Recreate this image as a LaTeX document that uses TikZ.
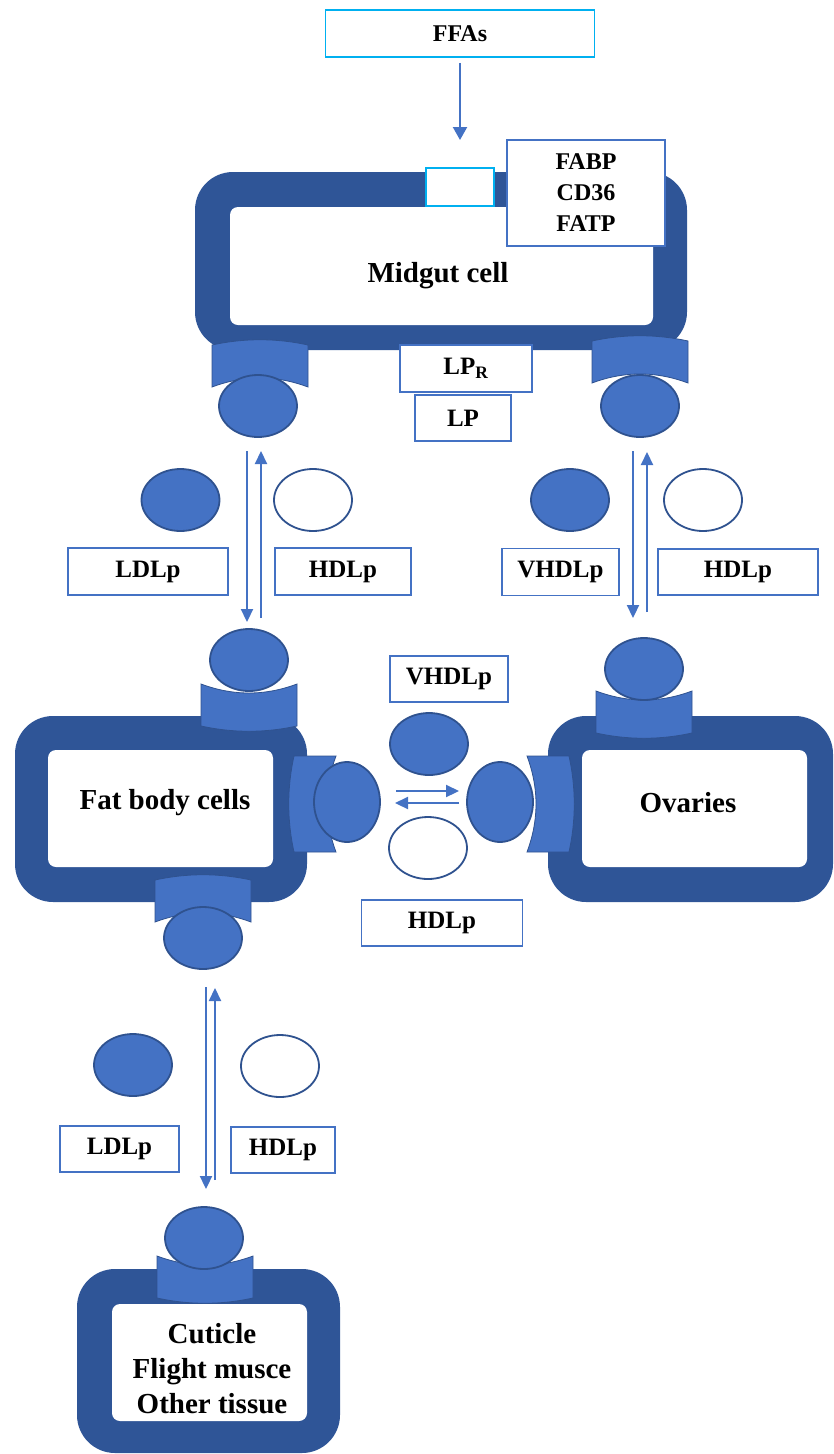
\documentclass[tikz,border=0pt]{standalone}
\usepackage{fontspec}
\setmainfont{Liberation Serif}
\usetikzlibrary{shapes.geometric,arrows.meta,calc}
\definecolor{cellblue}{HTML}{2F5597}
\definecolor{midblue}{HTML}{4472C4}
\definecolor{edgeblue}{HTML}{2F528F}
\definecolor{cyanb}{HTML}{00B0F0}
\newcommand\myhrec[3]{%
  \begin{scope}[shift={(#1,#2)},yscale=#3]
    \path[rec] (-48,-21) .. controls (-16,-28) and (16,-28) .. (48,-21) -- (48,21)
      .. controls (16,9) and (-16,9) .. (-48,21) -- cycle;
  \end{scope}}
\newcommand\myvrec[3]{%
  \begin{scope}[shift={(#1,#2)},xscale=#3]
    \path[rec] (-21,-48) .. controls (-28,-16) and (-28,16) .. (-21,48) -- (21,48)
      .. controls (9,16) and (9,-16) .. (21,-48) -- cycle;
  \end{scope}}
\begin{document}
\begin{tikzpicture}[x=1pt,y=-1pt,
  outer/.style={draw=none, fill=cellblue, rounded corners=38pt, inner sep=0pt},
  inner/.style={fill=white, rounded corners=8pt, inner sep=0pt},
  celltxt/.style={font=\bfseries\fontsize{29}{35}\selectfont, align=center, inner sep=0pt},
  lbl/.style={draw=midblue, line width=1.8pt, fill=white, inner sep=0pt, font=\bfseries\fontsize{25}{30}\selectfont},
  lig/.style={ellipse, draw=edgeblue, line width=1.8pt, fill=midblue, minimum width=78pt, minimum height=62pt, inner sep=0pt},
  ligopen/.style={lig, fill=white},
  ligv/.style={lig, minimum width=66pt, minimum height=80pt},
  rec/.style={fill=midblue, draw=edgeblue, line width=0.8pt},
  conn/.style={draw=midblue, line width=2.2pt, -{Triangle[width=12pt,length=13pt]}}
]
\useasboundingbox (0,0) rectangle (833,1454);

% ---------- FFAs ----------
\node[lbl, draw=cyanb, minimum width=269pt, minimum height=47pt, font=\bfseries\fontsize{24}{29}\selectfont] (ffa) at (460,33.5) {FFAs};
\coordinate (ffaIn) at (460,140);
\draw[conn, -{Triangle[width=14pt,length=13pt]}] ([yshift=-5pt]ffa.south) -- (ffaIn);

% ---------- Midgut cell ----------
\node[outer, minimum width=492pt, minimum height=178pt] (mgO) at (441,261) {};
\node[inner, minimum width=423pt, minimum height=118pt] (mgI) at (441.5,266) {};
\node[celltxt] (mgT) at (438,276) {Midgut cell};
\node[draw=cyanb, line width=1.8pt, fill=white, minimum width=68pt, minimum height=38pt, inner sep=0pt] (chan) at (460,187) {};
\node[lbl, minimum width=158pt, minimum height=106pt, align=center, font=\bfseries\fontsize{24}{31}\selectfont] (fabp) at (586,193) {FABP\\CD36\\FATP};
\node[lbl, minimum width=132pt, minimum height=47pt] (lpr) at (466,368.5) {LP\textsubscript{R}};
\node[lbl, minimum width=96pt, minimum height=46pt] (lp) at (463,418) {LP};

\myhrec{260}{366}{1}
\myhrec{640}{362}{1}
\node[lig] (mgL) at (258,406) {};
\node[lig] (mgR) at (640,406) {};

% ---------- Left column (midgut <-> fat body) ----------
\coordinate (a1s) at (247,451); \coordinate (a1e) at (247,622);
\coordinate (a2s) at (261,618); \coordinate (a2e) at (261,451);
\draw[conn] (a1s) -- (a1e);
\draw[conn] (a2s) -- (a2e);
\node[lig] (ldl1) at (180.5,500) {};
\node[ligopen] (hdl1) at (313,500) {};
\node[lbl, minimum width=160pt, minimum height=47pt] (ldlL1) at (148,571.5) {LDLp};
\node[lbl, minimum width=136pt, minimum height=47pt] (hdlL1) at (343,571.5) {HDLp};

% ---------- Right column (midgut <-> ovaries) ----------
\coordinate (b1s) at (633,451); \coordinate (b1e) at (633,618);
\coordinate (b2s) at (647,612); \coordinate (b2e) at (647,452);
\draw[conn] (b1s) -- (b1e);
\draw[conn] (b2s) -- (b2e);
\node[lig] (vhd1) at (570,500) {};
\node[ligopen] (hdl2) at (703,500) {};
\node[lbl, minimum width=117pt, minimum height=47pt] (vhdL1) at (560.5,572) {VHDLp};
\node[lbl, minimum width=160pt, minimum height=46pt] (hdlL2) at (738,572) {HDLp};

% ---------- Fat body cells ----------
\node[outer, minimum width=292pt, minimum height=186pt] (fbO) at (161,809) {};
\node[inner, minimum width=225pt, minimum height=117pt] (fbI) at (160.5,808.5) {};
\node[celltxt] (fbT) at (165,803) {Fat body cells};
\myhrec{249}{705}{-1}
\myhrec{203}{901}{1}
\myvrec{315}{804}{1}
\node[lig] (fbTop) at (249,660) {};
\node[lig] (fbBot) at (203,938) {};
\node[ligv] (fbR) at (347,802) {};

% ---------- Ovaries ----------
\node[outer, minimum width=285pt, minimum height=186pt] (ovO) at (690.5,809) {};
\node[inner, minimum width=225pt, minimum height=117pt] (ovI) at (694.5,808.5) {};
\node[celltxt] (ovT) at (688,803) {Ovaries};
\myhrec{644}{712}{-1}
\myvrec{548}{804}{-1}
\node[lig] (ovTop) at (644,669) {};
\node[ligv] (ovL) at (500,802) {};

% ---------- Middle exchange ----------
\node[lbl, minimum width=118pt, minimum height=46pt] (vhdL2) at (449,679) {VHDLp};
\node[lig] (vhd2) at (429,744) {};
\coordinate (c1s) at (396,791); \coordinate (c1e) at (459,791);
\coordinate (c2s) at (459,803); \coordinate (c2e) at (395,803);
\draw[conn] (c1s) -- (c1e);
\draw[conn] (c2s) -- (c2e);
\node[ligopen] (hdl3) at (428,848) {};
\node[lbl, minimum width=161pt, minimum height=46pt] (hdlL3) at (442,923) {HDLp};

% ---------- Lower column (fat body <-> tissues) ----------
\coordinate (d1s) at (206,987); \coordinate (d1e) at (206,1189);
\coordinate (d2s) at (215,1180); \coordinate (d2e) at (215,988);
\draw[conn] (d1s) -- (d1e);
\draw[conn] (d2s) -- (d2e);
\node[lig] (ldl2) at (133,1065) {};
\node[ligopen] (hdl4) at (280,1066) {};
\node[lbl, minimum width=119pt, minimum height=46pt] (ldlL2) at (119.5,1149) {LDLp};
\node[lbl, minimum width=104pt, minimum height=46pt] (hdlL4) at (283,1150) {HDLp};

% ---------- Cuticle / tissues ----------
\node[outer, minimum width=263pt, minimum height=184pt] (tsO) at (208.5,1361) {};
\node[inner, minimum width=195pt, minimum height=117pt] (tsI) at (209.5,1362.5) {};
\node[celltxt] (tsT) at (212,1369) {Cuticle\\Flight musce\\Other tissue};
\myhrec{205}{1277}{-1}
\node[lig] (tsTop) at (204,1238) {};

\end{tikzpicture}
\end{document}
